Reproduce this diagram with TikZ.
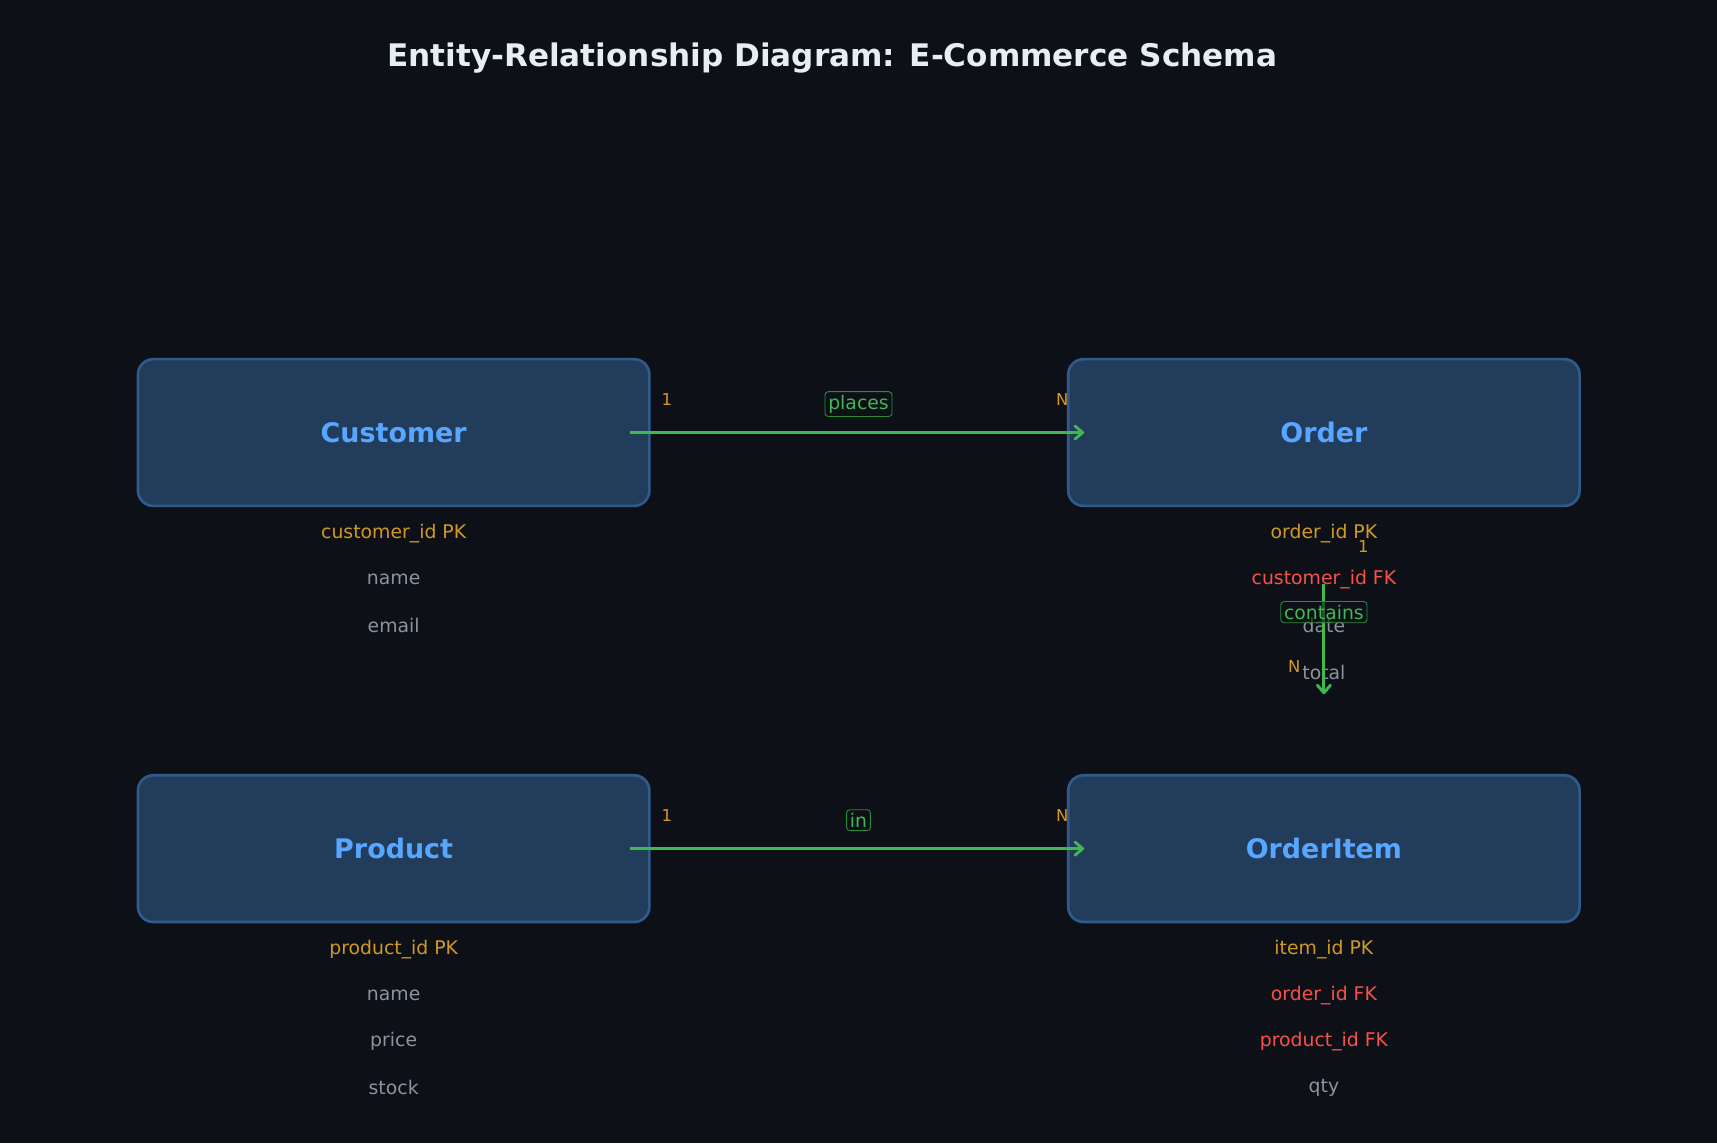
\documentclass[tikz,border=0pt]{standalone}
\usepackage{fontspec}
\setmainfont{DejaVu Sans}
\usetikzlibrary{arrows.meta,positioning}
\definecolor{bgc}{HTML}{0D1117}
\definecolor{boxfill}{HTML}{223D5C}
\definecolor{boxline}{HTML}{2F5A8A}
\definecolor{namec}{HTML}{58A6FF}
\definecolor{pkc}{HTML}{D29922}
\definecolor{fkc}{HTML}{F85149}
\definecolor{attrc}{HTML}{8B949E}
\definecolor{relc}{HTML}{3FB950}
\definecolor{titlec}{HTML}{E6EDF3}
\tikzset{
  entity/.style={draw=boxline,line width=1.2pt,fill=boxfill,rounded corners=7pt,
    minimum width=233.5pt,minimum height=67pt,inner sep=0pt,
    text=namec,font=\fontsize{12.3}{14}\selectfont\bfseries},
  attr/.style={text=attrc,font=\fontsize{8.6}{10}\selectfont},
  pk/.style={attr,text=pkc},
  fk/.style={attr,text=fkc},
  card/.style={text=pkc,font=\fontsize{7.5}{8}\selectfont},
  rel/.style={draw=relc!75!black,rounded corners=1.5pt,inner sep=1.5pt,
    text=relc,font=\fontsize{8.6}{10}\selectfont},
  link/.style={draw=relc,line width=1.3pt,-{Straight Barb[length=3.5pt,width=6pt,round]}}
}
\begin{document}
\begin{tikzpicture}[x=0.5pt,y=-0.5pt]
\fill[bgc] (0,0) rectangle (1568,1044);
\useasboundingbox (0,0) rectangle (1568,1044);
\node[text=titlec,font=\fontsize{14.2}{16}\selectfont\bfseries] (title) at (760,53) {Entity-Relationship Diagram: E-Commerce Schema};
% entities
\node[entity] (customer) at (359.5,395) {Customer};
\node[entity] (order) at (1209,395) {Order};
\node[entity] (product) at (359.5,775) {Product};
\node[entity] (item) at (1209,775) {OrderItem};
% attributes
\node[pk] (c1) at (359.5,487) {customer\_id PK};
\node[attr] (c2) at (359.5,529) {name};
\node[attr] (c3) at (359.5,571) {email};
\node[pk] (o1) at (1209,487) {order\_id PK};
\node[fk] (o2) at (1209,529) {customer\_id FK};
\node[attr] (o3) at (1209,571) {date};
\node[attr] (o4) at (1209,614) {total};
\node[pk] (p1) at (359.5,867) {product\_id PK};
\node[attr] (p2) at (359.5,909) {name};
\node[attr] (p3) at (359.5,951) {price};
\node[attr] (p4) at (359.5,993) {stock};
\node[pk] (i1) at (1209,867) {item\_id PK};
\node[fk] (i2) at (1209,909) {order\_id FK};
\node[fk] (i3) at (1209,951) {product\_id FK};
\node[attr] (i4) at (1209,993) {qty};
% relationships
\coordinate (placesA) at (575,395);
\coordinate (placesB) at (990,395);
\draw[link] (placesA) -- (placesB);
\node[rel] (places) at (784,369) {places};
\node[card] (places1) at (609,365) {1};
\node[card] (placesN) at (970,365) {N};
\coordinate (inA) at (575,775);
\coordinate (inB) at (990,775);
\draw[link] (inA) -- (inB);
\node[rel] (in) at (784,749) {in};
\node[card] (in1) at (609,745) {1};
\node[card] (inN) at (970,745) {N};
\coordinate (containsA) at (1209,533);
\coordinate (containsB) at (1209,634);
\draw[link] (containsA) -- (containsB);
\node[rel,fill=bgc,fill opacity=0.6,text opacity=1] (contains) at (1209,559) {contains};
\node[card] (contains1) at (1245,499) {1};
\node[card] (containsN) at (1182,609) {N};
\end{tikzpicture}
\end{document}
